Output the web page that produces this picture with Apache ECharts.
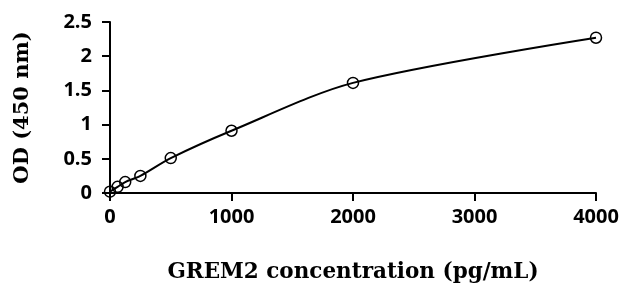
<!DOCTYPE html>
<html><head><meta charset="utf-8">
<script src="https://cdn.jsdelivr.net/npm/echarts@6/dist/echarts.min.js"></script>
<style>html,body{margin:0;padding:0;background:#fff}#c{width:628px;height:291px}</style>
</head><body><div id="c"></div>
<script>
var concentrations = [0, 62.5, 125, 250, 500, 1000, 2000, 4000];
var odValues = [0.02, 0.09, 0.16, 0.25, 0.51, 0.91, 1.61, 2.27];
var xTicks = [0, 1000, 2000, 3000, 4000];
var yTicks = [0, 0.5, 1, 1.5, 2, 2.5];
var xTitle = 'GREM2 concentration (pg/mL)';
var yTitle = 'OD (450 nm)';

var pts = concentrations.map(function(c, i){ return [c, odValues[i]]; });
var chart = echarts.init(document.getElementById('c'));
chart.setOption({
  animation: false,
  grid: {left: 110, right: 32, top: 22, bottom: 98},
  xAxis: {
    type: 'value', min: 0, max: 4000, interval: 1000,
    axisLine: {lineStyle: {color: '#000', width: 2}},
    axisTick: {show: true, length: 8, lineStyle: {color: '#000', width: 2}},
    splitLine: {show: false},
    axisLabel: {color: '#000', fontFamily: 'Open Sans', fontWeight: 'bold', fontSize: 20, margin: 14,
      formatter: function(v){ return String(v); }},
    name: xTitle, nameLocation: 'middle', nameGap: 68,
    nameTextStyle: {color: '#000', fontFamily: 'DejaVu Serif', fontWeight: 'bold', fontSize: 21.5}
  },
  yAxis: {
    type: 'value', min: 0, max: 2.5, interval: 0.5,
    axisLine: {show: true, lineStyle: {color: '#000', width: 2}},
    axisTick: {show: true, length: 8, lineStyle: {color: '#000', width: 2}},
    splitLine: {show: false},
    axisLabel: {color: '#000', fontFamily: 'Open Sans', fontWeight: 'bold', fontSize: 20, margin: 18,
      formatter: function(v){ return String(v); }},
    name: yTitle, nameLocation: 'middle', nameGap: 77,
    nameTextStyle: {color: '#000', fontFamily: 'DejaVu Serif', fontWeight: 'bold', fontSize: 21}
  },
  series: [{
    type: 'line', data: pts, smooth: 0.3,
    symbol: 'circle', symbolSize: 11, showSymbol: true,
    lineStyle: {color: '#000', width: 2},
    itemStyle: {color: 'rgba(255,255,255,0)', borderColor: '#000', borderWidth: 1.5}
  }]
});
</script></body></html>
